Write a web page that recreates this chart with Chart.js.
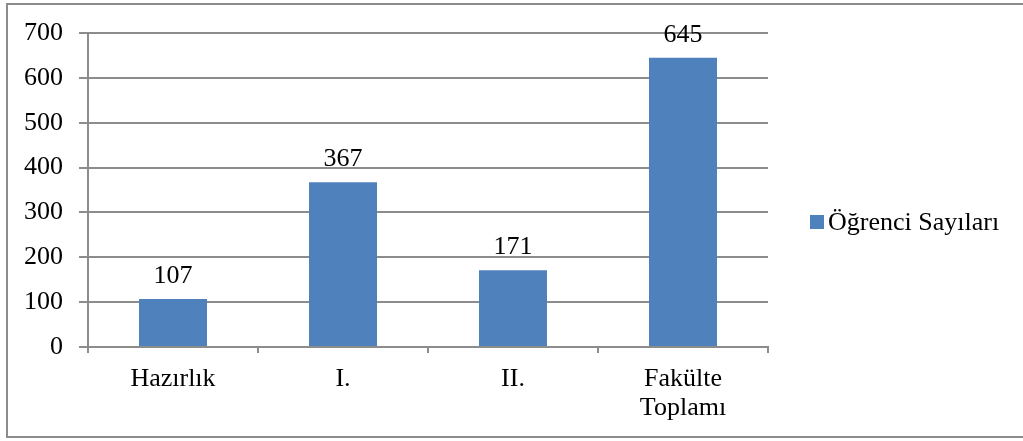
<!DOCTYPE html>
<html>
<head>
<meta charset="utf-8">
<script src="https://cdn.jsdelivr.net/npm/chart.js@4"></script>
<style>
    html, body { margin: 0; padding: 0; background: #fff; }
    #wrap { position: relative; width: 1023px; height: 441px; overflow: hidden; }
    #frame {
        position: absolute; left: 6px; top: 3px; width: 1030px; height: 435px;
        border: 2px solid #8c8c8c; box-sizing: border-box; pointer-events: none;
    }
    canvas { position: absolute; left: 0; top: 0; }
</style>
</head>
<body>
<div id="wrap">
    <canvas id="myChart" width="1023" height="441"></canvas>
    <div id="frame"></div>
</div>
<script>
    const categories = ['Hazırlık', 'I.', 'II.', ['Fakülte', 'Toplamı']];
    const seriesName = 'Öğrenci Sayıları';
    const values = [107, 367, 171, 645];
    const yTicks = [0, 100, 200, 300, 400, 500, 600, 700];

    const FONT = "'Liberation Serif', 'Times New Roman', serif";
    const GRID = '#8c8c8c';
    const BAR = '#4f81bd';

    // etiquetas de valor encima de cada barra
    const valueLabels = {
        id: 'valueLabels',
        afterDatasetsDraw(chart) {
            const ctx = chart.ctx;
            const meta = chart.getDatasetMeta(0);
            ctx.save();
            ctx.font = '26px ' + FONT;
            ctx.fillStyle = '#000';
            ctx.textAlign = 'center';
            ctx.textBaseline = 'alphabetic';
            meta.data.forEach(function (bar, i) {
                ctx.fillText(String(values[i]), bar.x, bar.y - 16);
            });
            ctx.restore();
        }
    };

    // leyenda a la derecha, estilo Excel (cuadro pegado al texto)
    const sideLegend = {
        id: 'sideLegend',
        afterDraw(chart) {
            const ctx = chart.ctx;
            const ds = chart.data.datasets[0];
            const x = chart.chartArea.right + 42;
            const cy = 222;
            ctx.save();
            ctx.fillStyle = ds.backgroundColor;
            ctx.fillRect(x, cy - 7, 14, 14);
            ctx.font = '26px ' + FONT;
            ctx.fillStyle = '#000';
            ctx.textAlign = 'left';
            ctx.textBaseline = 'middle';
            ctx.fillText(ds.label, x + 18, cy + 1);
            ctx.restore();
        }
    };

    new Chart(document.getElementById('myChart'), {
        type: 'bar',
        data: {
            labels: categories,
            datasets: [{
                label: seriesName,
                data: values,
                backgroundColor: BAR,
                borderWidth: 0,
                categoryPercentage: 1,
                barPercentage: 0.4
            }]
        },
        options: {
            responsive: false,
            animation: false,
            layout: { padding: { top: 33, right: 255, bottom: 0, left: 0 } },
            plugins: {
                tooltip: { enabled: false },
                legend: { display: false }
            },
            scales: {
                x: {
                    afterFit: function (scale) { scale.height = 94; },
                    grid: {
                        display: true,
                        drawOnChartArea: false,
                        offset: true,
                        tickLength: 6,
                        color: GRID,
                        lineWidth: 2
                    },
                    border: { color: GRID, width: 2 },
                    ticks: {
                        font: { family: FONT, size: 26, lineHeight: 1.1 },
                        color: '#000',
                        padding: 12,
                        maxRotation: 0,
                        autoSkip: false
                    }
                },
                y: {
                    min: 0,
                    max: 700,
                    afterFit: function (scale) { scale.width = 88; },
                    afterBuildTicks: function (scale) {
                        scale.ticks = yTicks.map(v => ({ value: v }));
                    },
                    grid: {
                        color: GRID,
                        lineWidth: 2,
                        tickLength: 9
                    },
                    border: { color: GRID, width: 2 },
                    ticks: {
                        font: { family: FONT, size: 26 },
                        color: '#000',
                        padding: 16
                    }
                }
            }
        },
        plugins: [valueLabels, sideLegend]
    });
</script>
</body>
</html>
